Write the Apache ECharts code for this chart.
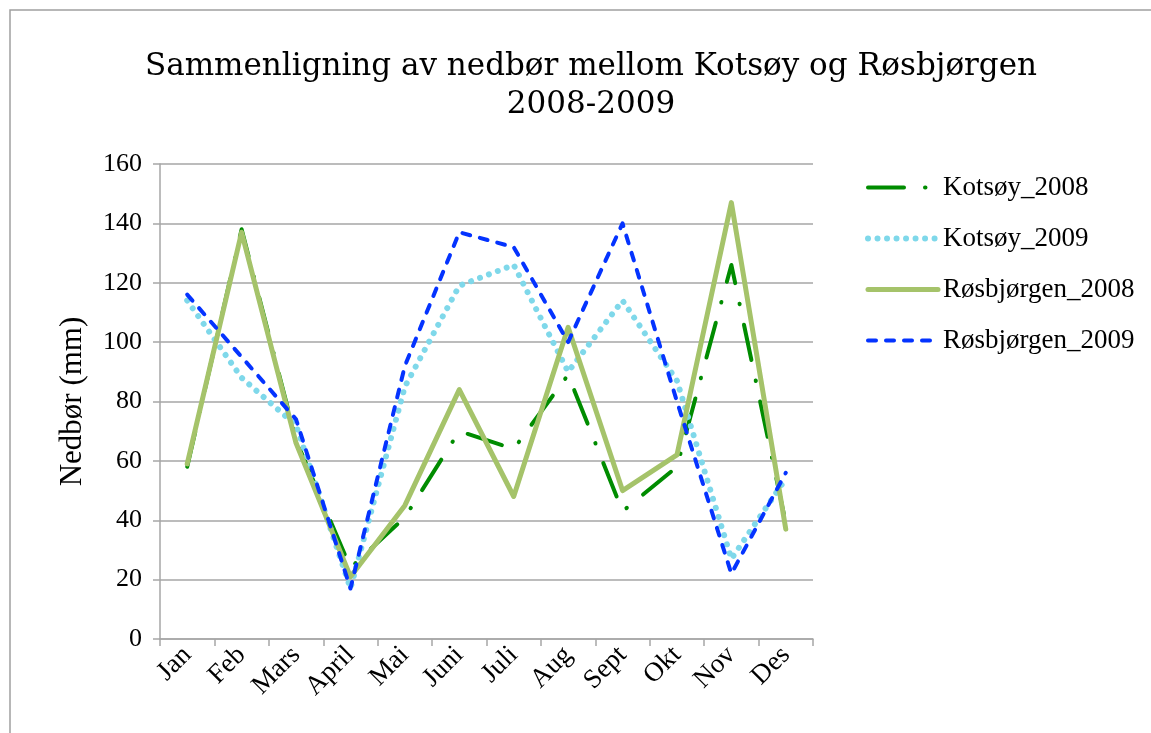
<!DOCTYPE html>
<html>
<head>
<meta charset="utf-8">
<script src="https://cdn.jsdelivr.net/npm/echarts@6/dist/echarts.min.js"></script>
<style>
  html, body { margin: 0; padding: 0; background: #ffffff; }
  #chart { width: 1151px; height: 733px; }
</style>
</head>
<body>
<div id="chart"></div>
<script>
// Monthly precipitation (mm), Kotsøy and Røsbjørgen, 2008 and 2009
const months = ['Jan', 'Feb', 'Mars', 'April', 'Mai', 'Juni', 'Juli', 'Aug', 'Sept', 'Okt', 'Nov', 'Des'];
const kotsoy2008 = [58, 138, 67, 24, 41, 70, 64, 89, 43, 58, 126, 39];
const kotsoy2009 = [114, 88, 72, 17, 85, 119, 126, 90, 114, 87, 27, 54];
const rosbjorgen2008 = [59, 137, 66, 21, 45, 84, 48, 105, 50, 62, 147, 37];
const rosbjorgen2009 = [116, 95, 74, 17, 92, 137, 132, 100, 140, 80, 22, 56];
const seriesNames = ['Kotsøy_2008', 'Kotsøy_2009', 'Røsbjørgen_2008', 'Røsbjørgen_2009'];
const yMin = 0, yMax = 160, yStep = 20;

const serif = 'Liberation Serif';
const gridColor = '#a6a6a6';

// line look of each series: colour, width, dash pattern
const styles = [
  { color: '#008c00', width: 4, type: [36, 21, 0.5, 21] },
  { color: '#7fd8ea', width: 6, type: [0.01, 9.5] },
  { color: '#a5c36a', width: 5, type: 'solid' },
  { color: '#0433ff', width: 4, type: [8, 10] }
];

const chart = echarts.init(document.getElementById('chart'), null, { renderer: 'canvas' });

const seriesData = [kotsoy2008, kotsoy2009, rosbjorgen2008, rosbjorgen2009];

const series = seriesNames.map((name, i) => ({
  name: name,
  type: 'line',
  data: seriesData[i],
  symbol: 'none',
  showSymbol: false,
  animation: false,
  lineStyle: { color: styles[i].color, width: styles[i].width, type: styles[i].type, cap: 'round', join: 'round' },
  itemStyle: { color: styles[i].color }
}));

const legendData = seriesNames.map((name, i) => ({
  name: name,
  itemStyle: { opacity: 0 },
  lineStyle: { color: styles[i].color, width: styles[i].width, type: styles[i].type, cap: 'round' }
}));

chart.setOption({
  animation: false,
  backgroundColor: '#ffffff',
  title: {
    text: 'Sammenligning av nedbør mellom Kotsøy og Røsbjørgen\n2008-2009',
    left: 586,
    top: 43,
    textAlign: 'center',
    textStyle: {
      fontFamily: 'DejaVu Serif',
      fontSize: 31,
      fontWeight: 'normal',
      color: '#000000',
      lineHeight: 38
    }
  },
  graphic: [{
    type: 'rect',
    shape: { x: 10, y: 10, width: 1300, height: 900 },
    style: { fill: 'none', stroke: '#a0a0a0', lineWidth: 1.5 },
    silent: true,
    z: -1
  }],
  legend: {
    orient: 'vertical',
    left: 860,
    top: 169,
    itemWidth: 70,
    itemHeight: 14,
    itemGap: 24,
    textStyle: { fontFamily: serif, fontSize: 27, color: '#000000', lineHeight: 26 },
    data: legendData
  },
  grid: { left: 160, right: 338, top: 164, bottom: 94, containLabel: false },
  xAxis: {
    type: 'category',
    data: months,
    boundaryGap: true,
    axisLine: { lineStyle: { color: gridColor, width: 1.5 } },
    axisTick: { show: true, length: 7, alignWithLabel: false, lineStyle: { color: gridColor, width: 1.5 } },
    axisLabel: { rotate: 45, margin: 12, fontFamily: serif, fontSize: 27, color: '#000000', interval: 0 },
    splitLine: { show: false }
  },
  yAxis: {
    type: 'value',
    min: yMin,
    max: yMax,
    interval: yStep,
    name: 'Nedbør (mm)',
    nameLocation: 'middle',
    nameGap: 72,
    nameTextStyle: { fontFamily: serif, fontSize: 31, color: '#000000' },
    axisLine: { show: true, lineStyle: { color: gridColor, width: 1.5 } },
    axisTick: { show: true, length: 7, lineStyle: { color: gridColor, width: 1.5 } },
    axisLabel: { margin: 18, fontFamily: serif, fontSize: 26, color: '#000000' },
    splitLine: { show: true, lineStyle: { color: gridColor, width: 1.5 } }
  },
  series: series
});
</script>
</body>
</html>
